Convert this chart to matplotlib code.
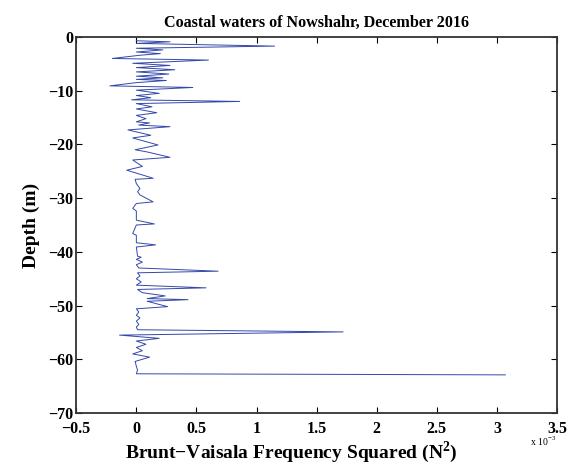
import matplotlib
matplotlib.use("Agg")
import matplotlib.pyplot as plt

plt.rcParams["font.family"] = ["Liberation Serif", "DejaVu Serif"]
plt.rcParams["mathtext.fontset"] = "custom"
plt.rcParams["mathtext.rm"] = "Liberation Serif"
plt.rcParams["mathtext.bf"] = "Liberation Serif:bold"

# ─── Data (N² in units of 1e-3 s⁻², depth in m) ──────────────────────────────
depth = [
    -0.7, -0.9, -1.2, -1.7, -2.1, -2.4, -2.8, -3.1, -3.4, -4.0,
    -4.3, -4.9, -5.3, -5.7, -6.1, -6.5, -6.9, -7.3, -7.6, -7.9,
    -8.1, -8.5, -9.1, -9.4, -9.9, -10.5, -10.9, -11.3, -11.7, -12.0,
    -12.4, -13.0, -13.4, -14.1, -14.6, -15.2, -15.8, -16.0, -16.4, -16.7,
    -17.3, -18.3, -18.8, -20.1, -21.0, -21.4, -22.4, -22.9, -24.1, -24.8,
    -26.3, -26.5, -27.3, -28.2, -28.8, -29.4, -30.7, -31.0, -31.9, -32.4,
    -32.8, -34.1, -34.8, -35.0, -36.6, -36.9, -38.3, -38.7, -39.1, -40.8,
    -41.0, -41.4, -41.9, -42.4, -43.0, -43.6, -43.9, -44.5, -45.0, -45.6,
    -46.2, -46.7, -47.0, -47.6, -48.2, -48.7, -48.9, -49.2, -50.2, -50.6,
    -51.2, -51.8, -52.3, -52.9, -53.5, -54.0, -54.5, -54.9, -55.5, -56.1,
    -56.6, -57.2, -57.8, -58.4, -59.0, -59.6, -60.4, -61.3, -62.0, -62.7,
    -62.9,
]
n2 = [
    0.00, 0.28, 0.00, 1.15, 0.00, 0.22, 0.00, 0.20, 0.03, -0.20,
    0.60, -0.03, 0.28, 0.00, 0.32, 0.00, 0.27, 0.00, 0.22, 0.00,
    0.25, 0.00, -0.22, 0.47, 0.00, 0.19, 0.00, 0.12, -0.04, 0.86,
    0.00, 0.13, 0.00, 0.17, 0.00, 0.08, 0.00, 0.11, 0.02, 0.28,
    -0.07, 0.12, -0.03, 0.18, -0.01, 0.09, 0.28, -0.03, 0.05, -0.08,
    0.14, -0.01, 0.00, 0.03, 0.01, 0.03, 0.14, 0.00, -0.03, 0.00,
    0.00, 0.00, 0.15, 0.00, -0.03, 0.00, 0.00, 0.16, 0.00, 0.01,
    0.04, 0.00, 0.05, 0.00, 0.02, 0.68, 0.01, 0.03, 0.00, 0.04,
    0.00, 0.58, 0.01, 0.05, 0.24, 0.09, 0.43, 0.09, 0.26, 0.00,
    0.02, 0.00, 0.03, 0.00, 0.02, 0.00, 0.01, 1.72, -0.14, 0.19,
    0.00, 0.08, 0.00, 0.05, -0.03, 0.11, -0.01, 0.00, 0.01, 0.00,
    3.07,
]

x_ticks = [-0.5, 0, 0.5, 1, 1.5, 2, 2.5, 3, 3.5]
x_tick_labels = ["\u22120.5", "0", "0.5", "1", "1.5", "2", "2.5", "3", "3.5"]
y_ticks = [0, -10, -20, -30, -40, -50, -60, -70]
y_tick_labels = ["0", "\u221210", "\u221220", "\u221230", "\u221240",
                 "\u221250", "\u221260", "\u221270"]

# ─── Plot ─────────────────────────────────────────────────────────────────────
fig = plt.figure(figsize=(5.69, 4.68), dpi=100)
ax = fig.add_axes([0.134, 0.1175, 0.845, 0.8035])

ax.plot(n2, depth, color="#3448aa", linewidth=0.7)

ax.set_xlim(-0.5, 3.5)
ax.set_ylim(-70, 0)
ax.set_xticks(x_ticks)
ax.set_xticklabels(x_tick_labels, fontsize=11.5, fontweight="bold")
ax.set_yticks(y_ticks)
ax.set_yticklabels(y_tick_labels, fontsize=11.5, fontweight="bold")
ax.tick_params(direction="in", length=4, width=0.8, top=True, right=True)
ax.tick_params(axis="x", pad=6)
ax.tick_params(axis="y", pad=2)

for sp in ax.spines.values():
    sp.set_linewidth(1.3)
    sp.set_color("#333333")

ax.set_title("Coastal waters of Nowshahr, December 2016",
             fontsize=11.6, fontweight="bold", pad=7)
ax.set_xlabel("Brunt\u2212Vaisala Frequency Squared (N$^{\\mathbf{2}}$)",
              fontsize=14, fontweight="bold")
ax.xaxis.set_label_coords(0.447, -0.07)
ax.set_ylabel("Depth (m)", fontsize=14, fontweight="bold")
ax.yaxis.set_label_coords(-0.075, 0.5)

fig.text(0.932, 0.056, "x 10$^{-3}$", fontsize=7, ha="left", va="center")

fig.savefig("out.png", dpi=100)
